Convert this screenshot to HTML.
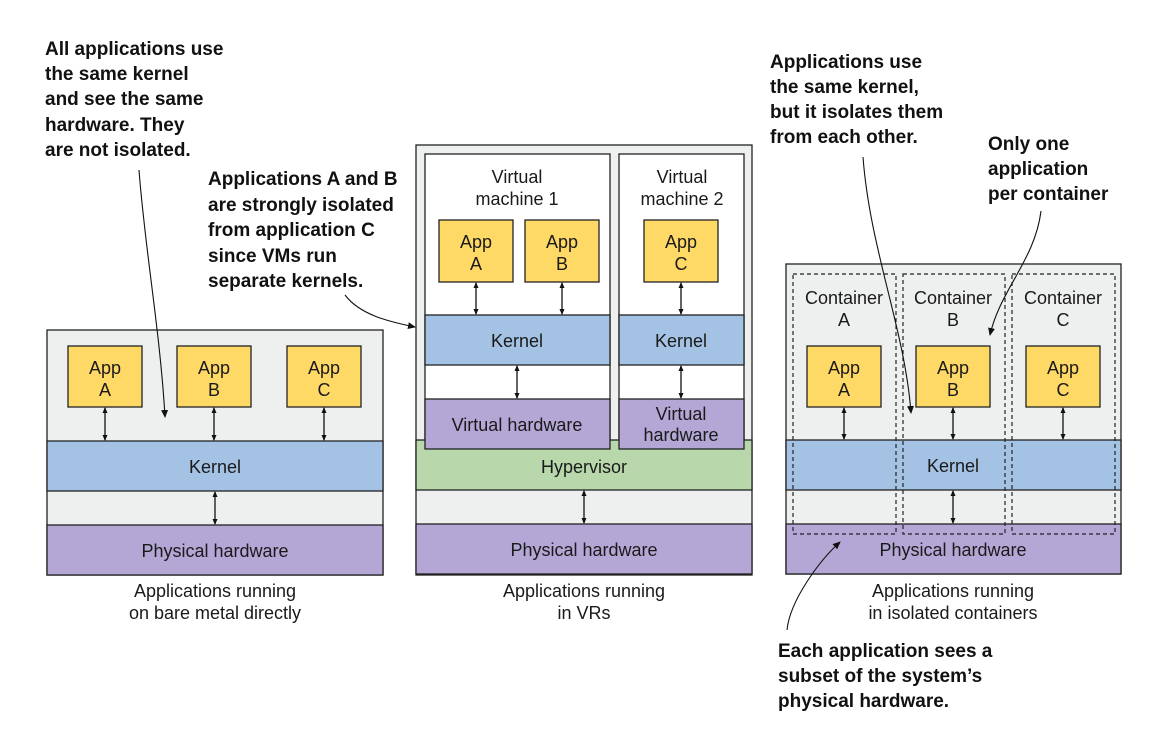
<!DOCTYPE html>
<html><head><meta charset="utf-8"><style>
html,body{margin:0;padding:0;background:#fff;}
svg{display:block}
.l{font-family:"Liberation Sans",sans-serif;font-size:18px;fill:#1a1a1a;text-anchor:middle}
.a{font-family:"Liberation Sans",sans-serif;font-size:19px;font-weight:bold;fill:#111}
.b{stroke:#222;stroke-width:1.3}
</style></head><body>
<svg width="1165" height="740" viewBox="0 0 1165 740" xmlns="http://www.w3.org/2000/svg">
<defs>
<marker id="ah" markerWidth="8" markerHeight="8" refX="7" refY="4" orient="auto" markerUnits="userSpaceOnUse"><path d="M0,0.5 L8,4 L0,7.5z" fill="#111"/></marker>
<marker id="sh" markerWidth="6" markerHeight="6" refX="5" refY="3" orient="auto-start-reverse" markerUnits="userSpaceOnUse"><path d="M0,0.5 L6,3 L0,5.5z" fill="#111"/></marker>
</defs>
<!-- LEFT -->
<rect x="47" y="330" width="336" height="245" fill="#eeefef" class="b"/>
<rect x="68" y="346" width="74" height="61" fill="#ffd966" class="b"/>
<rect x="177" y="346" width="74" height="61" fill="#ffd966" class="b"/>
<rect x="287" y="346" width="74" height="61" fill="#ffd966" class="b"/>
<text class="l" x="105" y="374">App</text><text class="l" x="105" y="396">A</text>
<text class="l" x="214" y="374">App</text><text class="l" x="214" y="396">B</text>
<text class="l" x="324" y="374">App</text><text class="l" x="324" y="396">C</text>
<rect x="47" y="441" width="336" height="50" fill="#a4c2e3" class="b"/>
<text class="l" x="215" y="473">Kernel</text>
<rect x="47" y="525" width="336" height="50" fill="#b4a7d6" class="b"/>
<text class="l" x="215" y="557">Physical hardware</text>
<g stroke="#111" stroke-width="1.3" marker-start="url(#sh)" marker-end="url(#sh)">
<line x1="105" y1="408" x2="105" y2="440"/><line x1="214" y1="408" x2="214" y2="440"/><line x1="324" y1="408" x2="324" y2="440"/>
<line x1="215" y1="492" x2="215" y2="524"/>
</g>
<text class="l" x="215" y="597">Applications running</text>
<text class="l" x="215" y="619">on bare metal directly</text>
<!-- MIDDLE -->
<rect x="416" y="145" width="336" height="430" fill="#eeefef" class="b"/>
<rect x="425" y="154" width="185" height="295" fill="#fff" class="b"/>
<rect x="619" y="154" width="125" height="295" fill="#fff" class="b"/>
<text class="l" x="517" y="183">Virtual</text><text class="l" x="517" y="205">machine 1</text>
<text class="l" x="682" y="183">Virtual</text><text class="l" x="682" y="205">machine 2</text>
<rect x="439" y="220" width="74" height="62" fill="#ffd966" class="b"/>
<rect x="525" y="220" width="74" height="62" fill="#ffd966" class="b"/>
<rect x="644" y="220" width="74" height="62" fill="#ffd966" class="b"/>
<text class="l" x="476" y="248">App</text><text class="l" x="476" y="270">A</text>
<text class="l" x="562" y="248">App</text><text class="l" x="562" y="270">B</text>
<text class="l" x="681" y="248">App</text><text class="l" x="681" y="270">C</text>
<rect x="425" y="315" width="185" height="50" fill="#a4c2e3" class="b"/>
<rect x="619" y="315" width="125" height="50" fill="#a4c2e3" class="b"/>
<text class="l" x="517" y="347">Kernel</text><text class="l" x="681" y="347">Kernel</text>
<rect x="416" y="440" width="336" height="50" fill="#b8d8ab" class="b"/>
<text class="l" x="584" y="473">Hypervisor</text>
<rect x="425" y="399" width="185" height="50" fill="#b4a7d6" class="b"/>
<rect x="619" y="399" width="125" height="50" fill="#b4a7d6" class="b"/>
<text class="l" x="517" y="431">Virtual hardware</text>
<text class="l" x="681" y="420">Virtual</text><text class="l" x="681" y="441">hardware</text>
<rect x="416" y="524" width="336" height="50" fill="#b4a7d6" class="b"/>
<text class="l" x="584" y="556">Physical hardware</text>
<g stroke="#111" stroke-width="1.3" marker-start="url(#sh)" marker-end="url(#sh)">
<line x1="476" y1="283" x2="476" y2="314"/><line x1="562" y1="283" x2="562" y2="314"/><line x1="681" y1="283" x2="681" y2="314"/>
<line x1="517" y1="366" x2="517" y2="398"/><line x1="681" y1="366" x2="681" y2="398"/>
<line x1="584" y1="491" x2="584" y2="523"/>
</g>
<text class="l" x="584" y="597">Applications running</text>
<text class="l" x="584" y="619">in VRs</text>
<!-- RIGHT -->
<rect x="786" y="264" width="335" height="310" fill="#eeefef" class="b"/>
<rect x="786" y="440" width="335" height="50" fill="#a4c2e3" class="b"/>
<rect x="786" y="524" width="335" height="50" fill="#b4a7d6" class="b"/>
<rect x="807" y="346" width="74" height="61" fill="#ffd966" class="b"/>
<rect x="916" y="346" width="74" height="61" fill="#ffd966" class="b"/>
<rect x="1026" y="346" width="74" height="61" fill="#ffd966" class="b"/>
<text class="l" x="844" y="374">App</text><text class="l" x="844" y="396">A</text>
<text class="l" x="953" y="374">App</text><text class="l" x="953" y="396">B</text>
<text class="l" x="1063" y="374">App</text><text class="l" x="1063" y="396">C</text>
<text class="l" x="844" y="304">Container</text><text class="l" x="844" y="326">A</text>
<text class="l" x="953" y="304">Container</text><text class="l" x="953" y="326">B</text>
<text class="l" x="1063" y="304">Container</text><text class="l" x="1063" y="326">C</text>
<text class="l" x="953" y="472">Kernel</text>
<text class="l" x="953" y="556">Physical hardware</text>
<g fill="none" stroke="#222" stroke-width="1.2" stroke-dasharray="4,3">
<rect x="793" y="274" width="103" height="260"/>
<rect x="903" y="274" width="102" height="260"/>
<rect x="1012" y="274" width="103" height="260"/>
</g>
<g stroke="#111" stroke-width="1.3" marker-start="url(#sh)" marker-end="url(#sh)">
<line x1="844" y1="408" x2="844" y2="439"/><line x1="953" y1="408" x2="953" y2="439"/><line x1="1063" y1="408" x2="1063" y2="439"/>
<line x1="953" y1="491" x2="953" y2="523"/>
</g>
<text class="l" x="953" y="597">Applications running</text>
<text class="l" x="953" y="619">in isolated containers</text>
<!-- ANNOTATIONS -->
<text class="a" x="45" y="55">All applications use</text>
<text class="a" x="45" y="80">the same kernel</text>
<text class="a" x="45" y="105">and see the same</text>
<text class="a" x="45" y="131">hardware. They</text>
<text class="a" x="45" y="156">are not isolated.</text>
<text class="a" x="208" y="185">Applications A and B</text>
<text class="a" x="208" y="211">are strongly isolated</text>
<text class="a" x="208" y="236">from application C</text>
<text class="a" x="208" y="262">since VMs run</text>
<text class="a" x="208" y="287">separate kernels.</text>
<text class="a" x="770" y="68">Applications use</text>
<text class="a" x="770" y="93">the same kernel,</text>
<text class="a" x="770" y="118">but it isolates them</text>
<text class="a" x="770" y="143">from each other.</text>
<text class="a" x="988" y="150">Only one</text>
<text class="a" x="988" y="175">application</text>
<text class="a" x="988" y="200">per container</text>
<text class="a" x="778" y="657">Each application sees a</text>
<text class="a" x="778" y="682">subset of the system’s</text>
<text class="a" x="778" y="707">physical hardware.</text>
<g fill="none" stroke="#111" stroke-width="1.1" marker-end="url(#ah)">
<path d="M139,170 C145,250 160,330 165,417"/>
<path d="M345,295 C360,315 390,322 415,327"/>
<path d="M863,157 C870,250 905,330 911,413"/>
<path d="M1041,211 C1035,260 1000,290 990,335"/>
<path d="M787,630 C790,600 820,560 840,542"/>
</g>
</svg>
</body></html>
